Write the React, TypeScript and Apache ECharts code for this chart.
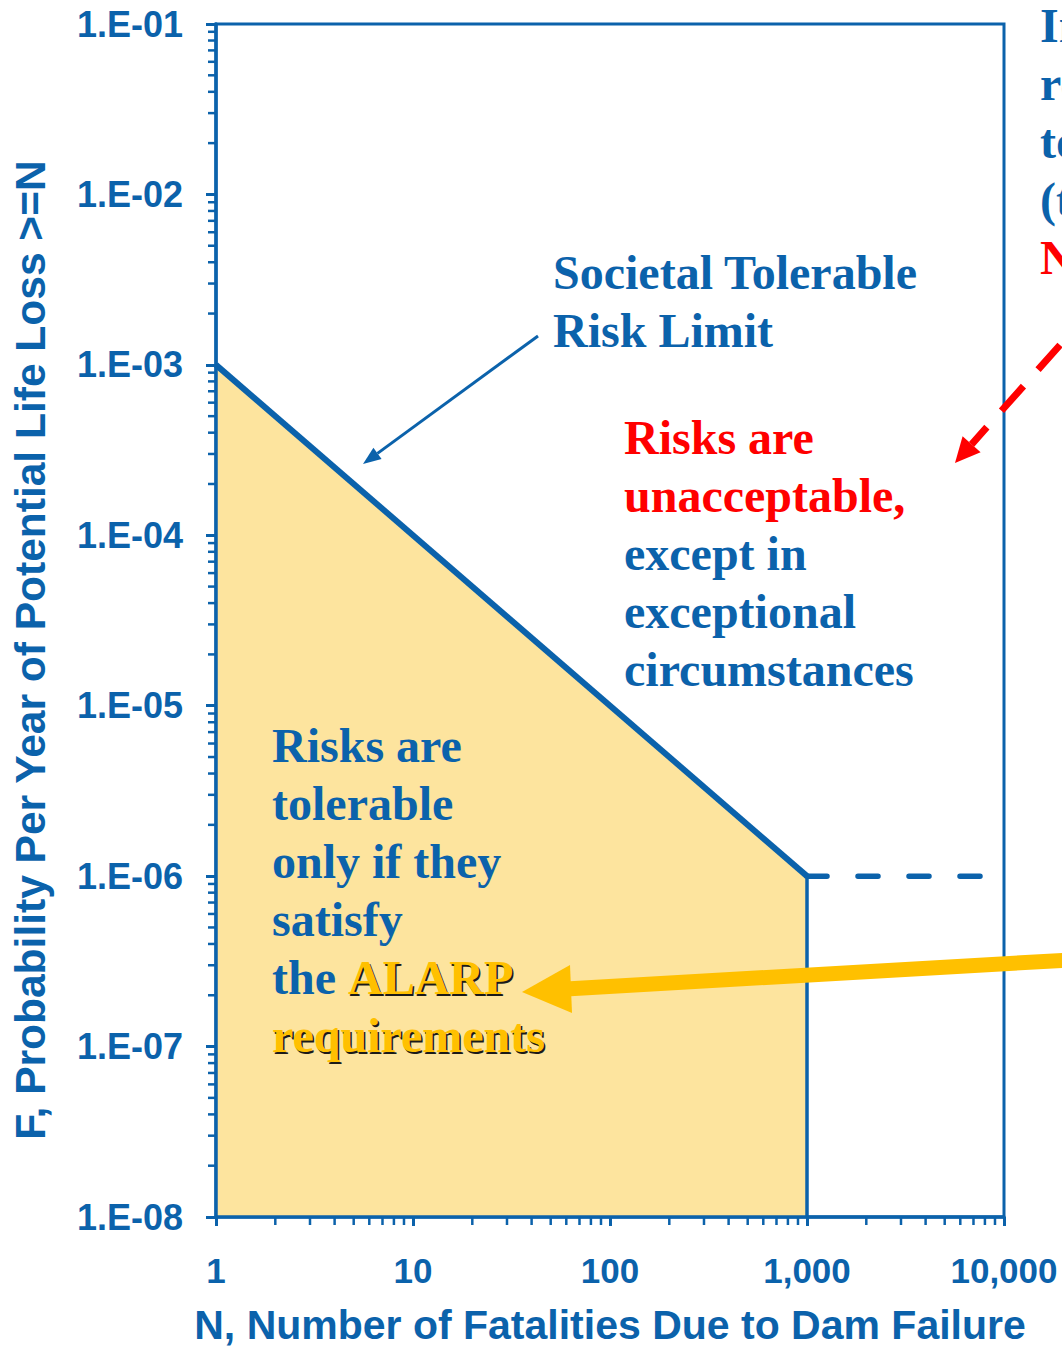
import React, { useEffect, useRef } from "react";
import * as echarts from "echarts";

// ---- data ----
const xTickLabels = ["1", "10", "100", "1,000", "10,000"];
const yTickLabels = ["1.E-08", "1.E-07", "1.E-06", "1.E-05", "1.E-04", "1.E-03", "1.E-02", "1.E-01"];
const yMinExp = -8;
const minorMantissas = [2, 3, 4, 5, 6, 7, 8, 9];
const xDecades = [1, 10, 100, 1000];
const yDecades = [1e-8, 1e-7, 1e-6, 1e-5, 1e-4, 1e-3, 1e-2];

// Societal tolerable risk limit (N, F)
const limitN = [1, 1000];
const limitF = [1e-3, 1e-6];
// vertical cut-off at N = 1000
const cutN = [1000, 1000];
const cutF = [1e-6, 1e-8];
// dashed extension beyond N = 1000
const extN = [1000, 10000];
const extF = [1e-6, 1e-6];
// tolerable (ALARP) region
const regionN = [1, 1000, 1000, 1];
const regionF = [1e-3, 1e-6, 1e-8, 1e-8];

const BLUE = "#0B62AB";
const FILL = "#FDE49E";
const GOLD = "#FFC000";
const RED = "#FF0000";
const SERIF = "'Liberation Serif', 'Times New Roman', serif";
const SANS = "'Liberation Sans', Arial, sans-serif";

export default function App() {
  const ref = useRef<HTMLDivElement>(null);
  useEffect(() => {
    const chart = echarts.init(ref.current!, null, { renderer: "svg" });

    const xMinor: number[][] = [];
    xDecades.forEach((d) => minorMantissas.forEach((m) => xMinor.push([m * d, 1e-8])));
    const yMinor: number[][] = [];
    yDecades.forEach((d) => minorMantissas.forEach((m) => yMinor.push([1, m * d])));

    const richSerif = (color: string) => ({
      fill: color,
      fontFamily: SERIF,
      fontWeight: "bold" as const,
      fontSize: 48,
      lineHeight: 58,
    });

    const option: any = {
      animation: false,
      grid: {
        left: 216,
        right: 58,
        top: 24,
        bottom: 132,
        show: true,
        borderColor: BLUE,
        borderWidth: 3,
        backgroundColor: "transparent",
      },
      xAxis: {
        type: "log",
        logBase: 10,
        min: 1,
        max: 10000,
        interval: 1,
        z: 10,
        axisLine: { lineStyle: { color: BLUE, width: 3.5 } },
        axisTick: { length: 9, lineStyle: { color: BLUE, width: 3 } },
        splitLine: { show: false },
        axisLabel: {
          margin: 36,
          fontSize: 35,
          fontWeight: "bold",
          fontFamily: SANS,
          color: BLUE,
          formatter: (v: number) => xTickLabels[Math.round(Math.log10(v))],
        },
      },
      yAxis: {
        type: "log",
        logBase: 10,
        min: 1e-8,
        max: 1e-1,
        interval: 1,
        z: 10,
        axisLine: { lineStyle: { color: BLUE, width: 3.5 } },
        axisTick: { length: 10, lineStyle: { color: BLUE, width: 3 } },
        splitLine: { show: false },
        axisLabel: {
          margin: 33,
          fontSize: 36,
          fontWeight: "bold",
          fontFamily: SANS,
          color: BLUE,
          formatter: (v: number) => yTickLabels[Math.round(Math.log10(v)) - yMinExp],
        },
      },
      series: [
        {
          type: "custom",
          z: 1,
          clip: false,
          data: regionN.map((n, i) => [n, regionF[i]]),
          renderItem: (params: any, api: any) => {
            if (params.dataIndex !== 0) return null;
            const pts = regionN.map((n, i) => api.coord([n, regionF[i]]));
            return { type: "polygon", shape: { points: pts }, style: { fill: FILL } };
          },
        },
        {
          type: "line",
          z: 5,
          data: limitN.map((n, i) => [n, limitF[i]]),
          symbol: "none",
          lineStyle: { color: BLUE, width: 6 },
        },
        {
          type: "line",
          z: 5,
          data: cutN.map((n, i) => [n, cutF[i]]),
          symbol: "none",
          lineStyle: { color: BLUE, width: 3.5 },
        },
        {
          type: "line",
          z: 5,
          data: extN.map((n, i) => [n, extF[i]]),
          symbol: "none",
          lineStyle: { color: BLUE, width: 5.5, type: [20, 31], cap: "round" },
        },
        {
          type: "custom",
          z: 11,
          clip: false,
          data: xMinor,
          renderItem: (params: any, api: any) => {
            const p = api.coord([api.value(0), api.value(1)]);
            return {
              type: "line",
              shape: { x1: p[0], y1: p[1], x2: p[0], y2: p[1] + 8 },
              style: { stroke: BLUE, lineWidth: 2.5 },
            };
          },
        },
        {
          type: "custom",
          z: 11,
          clip: false,
          data: yMinor,
          renderItem: (params: any, api: any) => {
            const p = api.coord([api.value(0), api.value(1)]);
            return {
              type: "line",
              shape: { x1: p[0] - 8, y1: p[1], x2: p[0], y2: p[1] },
              style: { stroke: BLUE, lineWidth: 2.5 },
            };
          },
        },
      ],
      graphic: [
        // axis titles
        {
          type: "text",
          x: 610,
          y: 1325,
          z: 100,
          style: {
            text: "N, Number of Fatalities Due to Dam Failure",
            fill: BLUE,
            font: `bold 41px ${SANS}`,
            align: "center",
            verticalAlign: "middle",
          },
        },
        {
          type: "text",
          x: 30,
          y: 650,
          rotation: Math.PI / 2,
          z: 100,
          style: {
            text: "F, Probability Per Year of Potential Life Loss >=N",
            fill: BLUE,
            font: `bold 42.5px ${SANS}`,
            align: "center",
            verticalAlign: "middle",
          },
        },
        // annotation: societal limit
        {
          type: "text",
          x: 553,
          y: 243,
          z: 100,
          style: {
            text: "{b|Societal Tolerable}\n{b|Risk Limit}",
            rich: { b: richSerif(BLUE) },
            verticalAlign: "top",
          },
        },
        // blue arrow
        {
          type: "line",
          z: 100,
          shape: { x1: 538, y1: 336, x2: 377.5, y2: 453.4 },
          style: { stroke: BLUE, lineWidth: 3 },
        },
        {
          type: "polygon",
          z: 100,
          shape: { points: [[363, 464], [381.6, 459.0], [373.4, 447.8]] },
          style: { fill: BLUE },
        },
        // unacceptable region text
        {
          type: "text",
          x: 624,
          y: 408,
          z: 100,
          style: {
            text: "{r|Risks are}\n{r|unacceptable,}\n{b|except in}\n{b|exceptional}\n{b|circumstances}",
            rich: { r: richSerif(RED), b: richSerif(BLUE) },
            verticalAlign: "top",
          },
        },
        // tolerable region text
        {
          type: "text",
          x: 272,
          y: 716,
          z: 100,
          style: {
            text: "{b|Risks are}\n{b|tolerable}\n{b|only if they}\n{b|satisfy}\n{b|the }",
            rich: { b: richSerif(BLUE) },
            verticalAlign: "top",
          },
        },
        // shadow of the golden words
        {
          type: "text",
          x: 272 + 1.5,
          y: 716 + 4 * 58 + 2,
          z: 100,
          silent: true,
          style: {
            text: "{t|the }{s|ALARP}\n{s|requirements}",
            rich: { t: richSerif("rgba(0,0,0,0)"), s: richSerif("#1a1a1a") },
            verticalAlign: "top",
          },
        },
        {
          type: "text",
          x: 272,
          y: 716 + 4 * 58,
          z: 101,
          style: {
            text: "{t|the }{y|ALARP}\n{y|requirements}",
            rich: { t: richSerif("rgba(0,0,0,0)"), y: richSerif(GOLD) },
            verticalAlign: "top",
          },
        },
        // top-right text (cut off at the right edge, as in the source)
        {
          type: "text",
          x: 1040,
          y: -4,
          z: 100,
          style: {
            text: "{b|In}\n{b|re}\n{b|to}\n{b|(t}\n{r|N}",
            rich: { r: richSerif(RED), b: richSerif(BLUE) },
            verticalAlign: "top",
          },
        },
        // red dashed arrow
        {
          type: "line",
          z: 100,
          shape: { x1: 1060, y1: 345, x2: 971.6, y2: 444.3 },
          style: { stroke: RED, lineWidth: 7, lineDash: [33, 22] },
        },
        {
          type: "polygon",
          z: 100,
          shape: { points: [[955, 463], [980.6, 452.3], [962.6, 436.3]] },
          style: { fill: RED },
        },
        // gold arrow
        {
          type: "line",
          z: 100,
          shape: { x1: 1070, y1: 960, x2: 566, y2: 989 },
          style: { stroke: GOLD, lineWidth: 15 },
        },
        {
          type: "polygon",
          z: 100,
          shape: { points: [[522, 992], [570, 965], [572, 1013]] },
          style: { fill: GOLD },
        },
      ],
    };
    chart.setOption(option);
    return () => chart.dispose();
  }, []);
  return (
    <div
      ref={ref}
      style={{ position: "fixed", left: 0, top: 0, width: 1062, height: 1349, background: "#fff" }}
    />
  );
}
